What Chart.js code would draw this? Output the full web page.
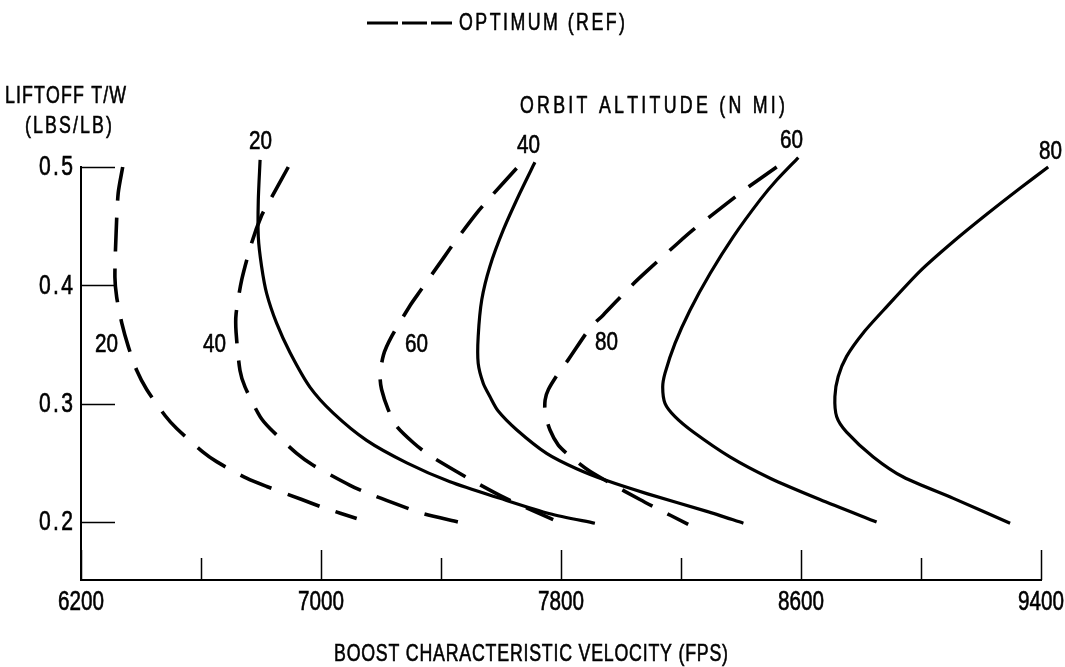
<!DOCTYPE html>
<html>
<head>
<meta charset="utf-8">
<script src="https://cdn.jsdelivr.net/npm/chart.js@4.4.1/dist/chart.umd.min.js"></script>
<style>
  html, body { margin: 0; padding: 0; background: #fff; }
  #chart { display: block; }
</style>
</head>
<body>
<canvas id="chart" width="1065" height="667"></canvas>
<script>
const xTicks = [6200, 6600, 7000, 7400, 7800, 8200, 8600, 9000, 9400];
const xLabels = [6200, 7000, 7800, 8600, 9400];
const yTicks = [0.2, 0.3, 0.4, 0.5];

// [boost characteristic velocity (fps), liftoff T/W]
const solid20 = [[6797,0.506],[6791,0.472],[6791,0.441],[6802,0.416],[6819,0.393],[6852,0.368],[6897,0.343],[6963,0.314],[7041,0.292],[7152,0.269],[7286,0.250],[7430,0.234],[7597,0.220],[7763,0.207],[7913,0.199]];
const solid40 = [[7713,0.504],[7663,0.478],[7608,0.447],[7563,0.416],[7536,0.388],[7524,0.357],[7524,0.334],[7541,0.317],[7563,0.306],[7590,0.294],[7652,0.278],[7752,0.258],[7852,0.245],[7952,0.235],[8086,0.224],[8286,0.209],[8408,0.199]];
const solid60 = [[8591,0.508],[8519,0.489],[8463,0.472],[8374,0.441],[8297,0.410],[8230,0.379],[8180,0.351],[8147,0.326],[8139,0.314],[8147,0.300],[8180,0.289],[8241,0.276],[8363,0.255],[8497,0.237],[8663,0.219],[8852,0.200]];
const solid80 = [[9424,0.500],[9330,0.482],[9219,0.460],[9108,0.437],[8997,0.412],[8886,0.382],[8808,0.360],[8752,0.340],[8724,0.323],[8713,0.306],[8719,0.289],[8752,0.276],[8841,0.255],[8941,0.238],[9108,0.220],[9297,0.199]];

// optimum (ref) curves
const opt20 = [[6339,0.500],[6324,0.478],[6317,0.444],[6313,0.407],[6319,0.390],[6336,0.368],[6358,0.348],[6386,0.328],[6419,0.312],[6480,0.290],[6519,0.279],[6607,0.259],[6652,0.251],[6752,0.237],[6819,0.230],[6936,0.219],[7010,0.212],[7119,0.203]];
const opt40 = [[6891,0.500],[6830,0.472],[6802,0.459],[6769,0.436],[6736,0.405],[6717,0.376],[6717,0.360],[6730,0.328],[6747,0.314],[6797,0.289],[6830,0.279],[6919,0.258],[6974,0.248],[7097,0.231],[7169,0.223],[7274,0.213],[7341,0.207],[7458,0.200]];
const opt60 = [[7652,0.499],[7563,0.474],[7519,0.461],[7447,0.437],[7408,0.423],[7330,0.395],[7297,0.383],[7236,0.357],[7208,0.341],[7197,0.323],[7202,0.312],[7224,0.295],[7252,0.281],[7308,0.267],[7358,0.257],[7463,0.241],[7519,0.233],[7608,0.221],[7774,0.202]];
const opt80 = [[8519,0.500],[8413,0.481],[8352,0.469],[8241,0.447],[8191,0.436],[8086,0.412],[8036,0.400],[7941,0.375],[7897,0.364],[7824,0.337],[7797,0.328],[7758,0.312],[7747,0.303],[7747,0.292],[7763,0.278],[7791,0.265],[7824,0.257],[7890,0.244],[7963,0.233],[8063,0.219],[8108,0.213],[8224,0.198]];

// curve labels, placed in data coordinates
const curveLabels = [
  ['20', 6797, 0.521], ['40', 7690, 0.518], ['60', 8567, 0.522], ['80', 9430, 0.513],
  ['20', 6283, 0.350], ['40', 6643, 0.350], ['60', 7317, 0.350], ['80', 7950, 0.351]
];

const FONT = '"Liberation Sans", Arial, sans-serif';

function pts(arr) {
  return arr.map(p => ({ x: p[0], y: p[1] }));
}

function solid(arr) {
  return { data: pts(arr), showLine: true, borderColor: '#000', borderWidth: 3.2, pointRadius: 0, tension: 0.25, clip: false };
}

function dashed(arr) {
  return { data: pts(arr), showLine: true, borderColor: '#000', borderWidth: 3.6, borderDash: [34, 17], pointRadius: 0, tension: 0.25, clip: false };
}

// lettering: glyphs squeezed horizontally, spread out to fill the width
function letter(ctx, text, x, y, width, squeeze) {
  const chars = [...text];
  const natural = chars.map(c => ctx.measureText(c).width);
  const sum = natural.reduce((a, b) => a + b, 0);
  const s = squeeze || width / sum;
  const gap = chars.length > 1 ? (width - s * sum) / (chars.length - 1) : 0;
  let cx = x;
  chars.forEach((c, i) => {
    ctx.save();
    ctx.translate(cx, y);
    ctx.scale(s, 1);
    ctx.fillText(c, 0, 0);
    ctx.strokeText(c, 0, 0);
    ctx.restore();
    cx += s * natural[i] + gap;
  });
}

const innerTicks = {
  id: 'innerTicks',
  afterDraw(chart) {
    const { ctx, scales: { x, y } } = chart;
    const bottom = chart.chartArea.bottom;
    const left = chart.chartArea.left;
    ctx.save();
    ctx.strokeStyle = '#000';
    ctx.lineWidth = 1.5;
    ctx.beginPath();
    xTicks.forEach(v => {
      const px = Math.round(x.getPixelForValue(v)) + 0.5;
      const len = xLabels.includes(v) ? 30 : 22;
      ctx.moveTo(px, bottom);
      ctx.lineTo(px, bottom - len);
    });
    yTicks.forEach(v => {
      const py = Math.round(y.getPixelForValue(v)) + 0.5;
      ctx.moveTo(left, py);
      ctx.lineTo(left + 34, py);
    });
    ctx.stroke();
    ctx.restore();
  }
};

const texts = {
  id: 'texts',
  afterDraw(chart) {
    const { ctx, scales: { x, y } } = chart;
    const bottom = chart.chartArea.bottom;
    const left = chart.chartArea.left;
    ctx.save();
    ctx.fillStyle = '#000';
    ctx.strokeStyle = '#000';
    ctx.lineWidth = 0.6;
    ctx.textBaseline = 'middle';
    ctx.textAlign = 'left';

    // tick labels
    ctx.font = '27px ' + FONT;
    xLabels.forEach(v => {
      letter(ctx, String(v), x.getPixelForValue(v) - 23, bottom + 23, 46);
    });
    yTicks.forEach(v => {
      letter(ctx, v.toFixed(1), left - 42, y.getPixelForValue(v) + 1, 34, 0.78);
    });

    // curve labels
    ctx.font = '26px ' + FONT;
    curveLabels.forEach(l => {
      letter(ctx, l[0], x.getPixelForValue(l[1]) - 11, y.getPixelForValue(l[2]), 23);
    });

    // titles
    ctx.font = '24px ' + FONT;
    letter(ctx, 'OPTIMUM (REF)', 459, 23, 166, 0.74);
    letter(ctx, 'LIFTOFF T/W', 5, 96, 121, 0.74);
    letter(ctx, '(LBS/LB)', 25, 126, 87, 0.74);
    letter(ctx, 'ORBIT ALTITUDE (N MI)', 520, 106, 265, 0.74);
    letter(ctx, 'BOOST CHARACTERISTIC VELOCITY (FPS)', 334, 654, 394, 0.74);

    // legend dashes
    ctx.lineWidth = 3;
    ctx.beginPath();
    [[367, 398], [402, 427], [431, 452]].forEach(s => {
      ctx.moveTo(s[0], 23);
      ctx.lineTo(s[1], 23);
    });
    ctx.stroke();
    ctx.restore();
  }
};

new Chart(document.getElementById('chart'), {
  type: 'scatter',
  data: {
    datasets: [
      solid(solid20), solid(solid40), solid(solid60), solid(solid80),
      dashed(opt20), dashed(opt40), dashed(opt60), dashed(opt80)
    ]
  },
  options: {
    responsive: false,
    animation: false,
    devicePixelRatio: 1,
    layout: { padding: { top: 167, right: 24, left: 0, bottom: 0 } },
    plugins: { legend: { display: false }, tooltip: { enabled: false } },
    scales: {
      x: {
        type: 'linear',
        min: 6200,
        max: 9400,
        afterBuildTicks: axis => { axis.ticks = xTicks.map(v => ({ value: v })); },
        afterFit: s => { s.height = 87; s.paddingLeft = 0; s.paddingRight = 0; },
        grid: { display: false },
        border: { display: true, color: '#000', width: 2 },
        ticks: { display: false }
      },
      y: {
        type: 'linear',
        min: 0.151,
        max: 0.5,
        afterBuildTicks: axis => { axis.ticks = yTicks.map(v => ({ value: v })); },
        afterFit: s => { s.width = 81; s.paddingTop = 0; s.paddingBottom = 0; },
        grid: { display: false },
        border: { display: true, color: '#000', width: 2 },
        ticks: { display: false }
      }
    }
  },
  plugins: [innerTicks, texts]
});
</script>
</body>
</html>
